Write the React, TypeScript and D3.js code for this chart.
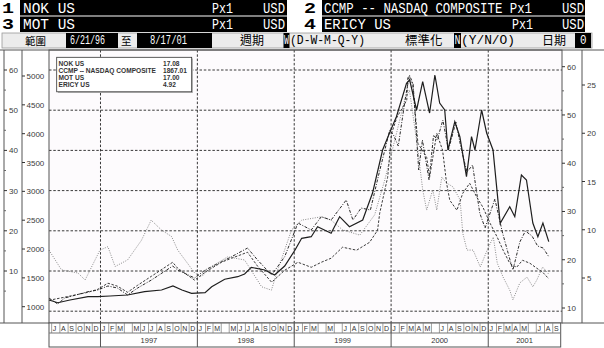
import React from "react";
import * as d3 from "d3";

// ---------- data ----------
const securities = ["NOK US", "CCMP -- NASDAQ COMPOSITE", "MOT US", "ERICY US"];
const lastValues = ["17.08", "1867.01", "17.00", "4.92"];
const axisATicks = [0, 10, 20, 30, 40, 50, 60]; // NOK (left outer)
const axisBTicks = [1000, 1500, 2000, 2500, 3000, 3500, 4000, 4500, 5000]; // CCMP
const axisCTicks = [10, 20, 30, 40, 50, 60]; // MOT (right inner)
const axisDTicks = [5, 10, 15, 20, 25]; // ERICY (right outer)
const monthLetters = ["J", "F", "M", "A", "M", "J", "J", "A", "S", "O", "N", "D"];
const hiddenMonths = ["1997-3", "1998-3", "1999-3", "1999-5", "2000-5", "2001-5"];
const years = [1997, 1998, 1999, 2000, 2001];

// NOK US (solid)
const nokSeries: [string, number][] = [
  ["1996-06-21", 2.79], ["1996-07-24", 2.11], ["1996-09-08", 2.79], ["1996-11-15", 3.61],
  ["1996-12-22", 3.61], ["1997-02-06", 3.78], ["1997-04-13", 4.03], ["1997-06-16", 4.85],
  ["1997-08-19", 5.27], ["1997-10-01", 6.27], ["1997-11-04", 5.27], ["1997-12-10", 4.45],
  ["1998-01-30", 4.6], ["1998-02-24", 6.09], ["1998-04-14", 7.94], ["1998-06-02", 8.58],
  ["1998-06-28", 9.25], ["1998-07-23", 10.92], ["1998-09-12", 10.25], ["1998-10-19", 9.0],
  ["1998-11-26", 11.24], ["1999-01-04", 15.22], ["1999-01-29", 18.13], ["1999-03-06", 18.53],
  ["1999-03-30", 21.02], ["1999-05-20", 19.38], ["1999-06-21", 23.51], ["1999-07-28", 21.02],
  ["1999-09-16", 22.69], ["1999-10-23", 29.4], ["1999-11-30", 40.1], ["1999-12-26", 44.33],
  ["2000-01-21", 48.38], ["2000-02-28", 56.69], ["2000-03-11", 57.51], ["2000-04-06", 50.05],
  ["2000-04-29", 57.09], ["2000-05-25", 49.3], ["2000-06-14", 58.76], ["2000-07-02", 51.79],
  ["2000-07-21", 50.05], ["2000-08-02", 40.1], ["2000-08-28", 47.14], ["2000-09-16", 43.41],
  ["2000-10-11", 33.46], ["2000-10-30", 43.41], ["2000-11-12", 40.1], ["2000-12-07", 50.05],
  ["2000-12-26", 44.33], ["2001-01-19", 40.1], ["2001-02-15", 21.87], ["2001-03-23", 26.0],
  ["2001-04-11", 23.51], ["2001-05-06", 33.88], ["2001-05-25", 32.64], ["2001-06-18", 21.94],
  ["2001-07-07", 18.53], ["2001-07-26", 21.94], ["2001-08-17", 17.29],
];

// CCMP -- NASDAQ COMPOSITE (dash-dot)
const ccmpSeries: [string, number][] = [
  ["1996-06-21", 1150], ["1996-07-24", 1046], ["1996-08-19", 1150], ["1996-11-15", 1260],
  ["1996-12-22", 1289], ["1997-01-29", 1359], ["1997-03-06", 1324], ["1997-04-13", 1203],
  ["1997-05-21", 1324], ["1997-07-12", 1463], ["1997-09-30", 1705], ["1997-10-19", 1636],
  ["1997-12-22", 1497], ["1998-01-30", 1636], ["1998-04-02", 1780], ["1998-05-10", 1867],
  ["1998-07-09", 2017], ["1998-08-16", 1809], ["1998-10-08", 1549], ["1998-11-26", 1867],
  ["1999-01-15", 2451], ["1999-03-06", 2330], ["1999-04-13", 2560], ["1999-05-20", 2503],
  ["1999-07-16", 2850], ["1999-08-10", 2503], ["1999-09-10", 2711], ["1999-10-15", 2676],
  ["1999-11-15", 3283], ["1999-12-27", 4064], ["2000-01-10", 3977], ["2000-01-28", 3786],
  ["2000-02-25", 4653], ["2000-03-10", 5017], ["2000-03-24", 4861], ["2000-04-14", 3370],
  ["2000-04-28", 3890], ["2000-05-23", 3197], ["2000-06-09", 3977], ["2000-06-23", 3890],
  ["2000-07-14", 4237], ["2000-08-04", 3717], ["2000-09-01", 4202], ["2000-09-22", 3717],
  ["2000-10-13", 3335], ["2000-11-03", 3457], ["2000-11-30", 2624], ["2000-12-20", 2364],
  ["2001-01-26", 2867], ["2001-02-23", 2295], ["2001-03-22", 1844], ["2001-04-04", 1637],
  ["2001-04-30", 2122], ["2001-05-21", 2312], ["2001-06-15", 2226], ["2001-07-06", 2052],
  ["2001-07-27", 2017], ["2001-08-17", 1867],
];

// MOT US (grey dotted)
const motSeries: [string, number][] = [
  ["1996-06-21", 22.0], ["1996-08-07", 17.9], ["1996-10-08", 17.25], ["1996-11-04", 15.8],
  ["1996-12-30", 22.0], ["1997-01-29", 22.7], ["1997-02-25", 18.6], ["1997-04-13", 19.95],
  ["1997-06-04", 24.0], ["1997-07-11", 28.2], ["1997-08-18", 26.2], ["1997-09-26", 24.8],
  ["1997-10-19", 22.0], ["1997-12-22", 17.25], ["1998-01-17", 16.5], ["1998-02-24", 18.6],
  ["1998-04-25", 20.6], ["1998-06-28", 19.95], ["1998-08-31", 14.4], ["1998-10-07", 13.7],
  ["1998-10-31", 17.9], ["1998-12-22", 26.2], ["1999-01-29", 28.2], ["1999-04-13", 28.9],
  ["1999-05-20", 28.2], ["1999-07-02", 26.2], ["1999-09-05", 25.1], ["1999-10-31", 29.3],
  ["1999-12-08", 36.5], ["2000-01-15", 44.8], ["2000-02-21", 53.1], ["2000-03-10", 55.2],
  ["2000-04-11", 42.7], ["2000-04-29", 34.5], ["2000-05-14", 30.3], ["2000-06-06", 34.5],
  ["2000-06-21", 30.3], ["2000-07-10", 37.1], ["2000-07-28", 35.9], ["2000-08-21", 35.1],
  ["2000-09-17", 32.4], ["2000-09-27", 25.5], ["2000-10-13", 22.0], ["2000-11-05", 22.0],
  ["2000-12-02", 18.5], ["2000-12-28", 22.0], ["2001-01-20", 24.7], ["2001-02-04", 19.3],
  ["2001-02-26", 16.4], ["2001-03-23", 13.7], ["2001-04-04", 11.7], ["2001-04-30", 15.2],
  ["2001-05-27", 16.4], ["2001-06-18", 14.4], ["2001-07-03", 15.8], ["2001-07-25", 18.5],
  ["2001-08-17", 17.0],
];

// ERICY US (dark dashed)
const ericySeries: [string, number][] = [
  ["1996-06-21", 2.69], ["1996-08-19", 3.01], ["1996-11-15", 3.52], ["1996-12-22", 3.83],
  ["1997-01-29", 4.46], ["1997-03-06", 4.15], ["1997-04-13", 3.52], ["1997-05-21", 4.25],
  ["1997-07-12", 5.18], ["1997-09-30", 6.63], ["1997-10-19", 6.01], ["1997-12-22", 4.77],
  ["1998-01-30", 5.6], ["1998-04-02", 6.63], ["1998-05-10", 7.05], ["1998-07-09", 7.67],
  ["1998-08-16", 6.22], ["1998-10-08", 4.56], ["1998-11-26", 5.8], ["1999-01-15", 6.63],
  ["1999-03-06", 6.11], ["1999-04-13", 6.63], ["1999-05-20", 7.05], ["1999-07-02", 8.19],
  ["1999-08-24", 7.88], ["1999-10-12", 8.7], ["1999-11-11", 9.95], ["1999-11-19", 11.71],
  ["1999-12-19", 15.44], ["2000-01-03", 20.0], ["2000-01-23", 21.66], ["2000-02-29", 23.42],
  ["2000-03-04", 25.8], ["2000-03-22", 25.18], ["2000-04-11", 18.96], ["2000-05-14", 17.51],
  ["2000-05-25", 15.44], ["2000-06-21", 20.0], ["2000-07-13", 18.24], ["2000-07-28", 14.82],
  ["2000-08-09", 13.06], ["2000-09-05", 12.02], ["2000-09-27", 13.78], ["2000-10-23", 14.82],
  ["2000-11-19", 13.37], ["2000-12-12", 12.33], ["2001-01-08", 10.67], ["2001-02-04", 9.22],
  ["2001-02-26", 7.88], ["2001-03-23", 6.53], ["2001-04-18", 6.11], ["2001-05-10", 6.84],
  ["2001-06-07", 6.53], ["2001-07-03", 6.01], ["2001-07-25", 5.6], ["2001-08-17", 4.92],
];

// ---------- layout ----------
const W = 604;
const H = 348;
const plotL = 49;
const plotR = 562;
const plotT = 50;
const plotB = 323;
const axisEnd = 560.7;
const monthRowB = 333;
const yearRowB = 347;

const parse = d3.timeParse("%Y-%m-%d");
const font = "Liberation Sans, Arial, sans-serif";
const mono = "Liberation Mono, DejaVu Sans Mono, monospace";
const cjk = "Noto Sans CJK TC, Noto Sans CJK SC, sans-serif";

function Cond({
  x,
  y,
  txt,
  w,
  fs = 12.4,
  sy = 1.2,
  fill = "#fff",
  weight = "normal",
}: {
  x: number;
  y: number;
  txt: string;
  w: number;
  fs?: number;
  sy?: number;
  fill?: string;
  weight?: string;
}) {
  return (
    <g transform={`translate(${x},${y}) scale(1,${sy})`}>
      <text
        x={0}
        y={0}
        fontFamily={mono}
        fontSize={fs}
        fontWeight={weight}
        fill={fill}
        textLength={w}
        lengthAdjust="spacingAndGlyphs"
      >
        {txt}
      </text>
    </g>
  );
}

export default function App() {
  const x = d3
    .scaleTime()
    .domain([new Date(1996, 5, 21), new Date(2001, 9, 1)])
    .range([plotL, axisEnd]);
  const yA = d3.scaleLinear().domain([0, 60]).range([311.2, 70]);
  const yB = d3.scaleLinear().domain([1000, 5000]).range([306.7, 76]);
  const yC = d3.scaleLinear().domain([10, 60]).range([308, 66.7]);
  const yD = d3.scaleLinear().domain([5, 25]).range([278, 85]);

  const mk = (s: d3.ScaleLinear<number, number>) =>
    d3
      .line<[string, number]>()
      .x((d) => x(parse(d[0]) as Date))
      .y((d) => s(d[1]));

  const months = d3.timeMonth.range(new Date(1996, 6, 1), new Date(2001, 9, 1));
  const yearStarts = years.map((y) => new Date(y, 0, 1));
  const axisText = { fontFamily: font, fontSize: 8, fill: "#3a3a3a" } as const;
  const minor = (ticks: number[]) => {
    const step = ticks[1] - ticks[0];
    return ticks.slice(0, -1).map((t) => t + step / 2);
  };

  const rowsL = [
    { n: "1", name: "NOK  US" },
    { n: "3", name: "MOT  US" },
  ];
  const rowsR = [
    { n: "2", name: "CCMP -- NASDAQ COMPOSITE Px1" },
    { n: "4", name: "ERICY  US" },
  ];

  return (
    <svg width={W} height={H} style={{ position: "absolute", left: 0, top: 0, background: "#fff" }}>
      {/* header rows */}
      {[0, 1].map((i) => {
        const top = i * 16.5;
        const base = top + 12.6;
        const L = rowsL[i];
        const R = rowsR[i];
        return (
          <g key={"h" + i}>
            <Cond x={2} y={top + 12.8} txt={L.n} w={12} fs={13} sy={1.12} fill="#000" weight="bold" />
            <rect x={20} y={top} width={267} height={15.5} fill="#000" />
            <Cond x={23} y={base} txt={L.name} w={L.name.length * 7.43} />
            <Cond x={212} y={base} txt="Px1" w={21} />
            <Cond x={263} y={base} txt="USD" w={22} />
            <Cond x={304} y={top + 12.8} txt={R.n} w={12} fs={13} sy={1.12} fill="#000" weight="bold" />
            <rect x={322} y={top} width={263} height={15.5} fill="#000" />
            <Cond x={324} y={base} txt={R.name} w={R.name.length * 7.43} />
            {i === 1 && <Cond x={512} y={base} txt="Px1" w={21} />}
            <Cond x={562} y={base} txt="USD" w={22} />
          </g>
        );
      })}
      {/* settings row */}
      <g>
        <rect x={2} y={33} width={590} height={15} fill="#ececec" stroke="#9a9a9a" strokeWidth={0.8} />
        <text x={25} y={44.5} fontFamily={cjk} fontSize={10.5} fill="#000">範圍</text>
        <rect x={66} y={33} width={52} height={15} fill="#000" />
        <Cond x={70} y={44.3} txt="6/21/96" w={35} fs={9} sy={1.45} />
        <text x={121} y={44.5} fontFamily={cjk} fontSize={10.5} fill="#000">至</text>
        <rect x={137} y={33} width={75} height={15} fill="#000" />
        <Cond x={150} y={44.3} txt="8/17/01" w={37} fs={9} sy={1.45} />
        <text x={240} y={44.8} fontFamily={cjk} fontSize={12} fill="#000">週期</text>
        <rect x={283.5} y={33} width={6} height={15} fill="#000" />
        <Cond x={284} y={44.3} txt="W" w={5} fs={8} sy={1.5} />
        <Cond x={290} y={44.3} txt="(D-W-M-Q-Y)" w={75} fs={11} sy={1.2} fill="#000" />
        <text x={405} y={44.8} fontFamily={cjk} fontSize={12.5} fill="#000">標準化</text>
        <rect x={454} y={33} width={7} height={15} fill="#000" />
        <Cond x={454.5} y={44.3} txt="N" w={6} fs={9} sy={1.4} />
        <Cond x={461} y={44.3} txt="(Y/N/O)" w={54} fs={11} sy={1.2} fill="#000" />
        <text x={542} y={44.8} fontFamily={cjk} fontSize={12} fill="#000">日期</text>
        <rect x={575} y={33} width={16} height={15} fill="#000" />
        <Cond x={580} y={44.3} txt="0" w={6.5} fs={10} sy={1.3} />
      </g>

      {/* plot background */}
      <rect x={plotL} y={plotT} width={plotR - plotL} height={plotB - plotT} fill="#fdfbfd" />

      {/* horizontal grid (NOK axis ticks) */}
      {axisATicks.map((t) => (
        <line
          key={"gy" + t}
          x1={plotL}
          x2={plotR}
          y1={yA(t)}
          y2={yA(t)}
          stroke="#222"
          strokeWidth={0.9}
          strokeDasharray="2.5,1.8"
        />
      ))}
      {/* vertical grid at year starts */}
      {yearStarts.map((d, i) => (
        <line
          key={"gx" + i}
          x1={x(d)}
          x2={x(d)}
          y1={plotT}
          y2={plotB}
          stroke="#222"
          strokeWidth={0.9}
          strokeDasharray="2.5,1.8"
        />
      ))}

      {/* series */}
      <path d={mk(yC)(motSeries) || ""} fill="none" stroke="#8a8a8a" strokeWidth={1} strokeDasharray="1,1.4" />
      <path d={mk(yD)(ericySeries) || ""} fill="none" stroke="#3a3a3a" strokeWidth={1} strokeDasharray="2.5,1.6" />
      <path d={mk(yB)(ccmpSeries) || ""} fill="none" stroke="#2a2a2a" strokeWidth={1} strokeDasharray="3,1.5,1,1.5" />
      <path d={mk(yA)(nokSeries) || ""} fill="none" stroke="#1e1e1e" strokeWidth={1.2} />

      {/* legend */}
      <rect x={58} y={58.5} width={135} height={34.5} fill="#bbb" />
      <rect x={56.7} y={57.3} width={135} height={34.5} fill="#fff" stroke="#333" strokeWidth={0.8} />
      {securities.map((s, i) => (
        <g key={"lg" + i}>
          <text x={58.5} y={65.5 + i * 7.2} fontFamily={font} fontSize={6.6} fontWeight="bold" fill="#333">
            {s}
          </text>
          <text x={163} y={65.5 + i * 7.2} fontFamily={font} fontSize={6.6} fontWeight="bold" fill="#333">
            {lastValues[i]}
          </text>
        </g>
      ))}

      {/* frames */}
      <rect x={plotL} y={plotT} width={plotR - plotL} height={plotB - plotT} fill="none" stroke="#555" strokeWidth={1} />
      <line x1={0} x2={W} y1={plotT} y2={plotT} stroke="#555" />
      <line x1={0} x2={plotL} y1={plotB} y2={plotB} stroke="#555" />
      <line x1={plotR} x2={W} y1={plotB} y2={plotB} stroke="#555" />
      <line x1={4} x2={4} y1={plotT} y2={plotB} stroke="#555" />
      <line x1={22} x2={22} y1={plotT} y2={plotB} stroke="#555" />
      <line x1={582} x2={582} y1={plotT} y2={plotB} stroke="#555" />

      {/* axis A (left outer, NOK) */}
      {axisATicks.filter((t) => t > 0).map((t) => (
        <g key={"a" + t}>
          <line x1={4} x2={7} y1={yA(t)} y2={yA(t)} stroke="#333" />
          <text x={9} y={yA(t) + 3} {...axisText}>{t}</text>
        </g>
      ))}
      {minor(axisATicks).map((t) => (
        <line key={"am" + t} x1={4} x2={6} y1={yA(t)} y2={yA(t)} stroke="#666" />
      ))}
      {/* axis B (CCMP) */}
      {axisBTicks.map((t) => (
        <g key={"b" + t}>
          <line x1={22} x2={25} y1={yB(t)} y2={yB(t)} stroke="#333" />
          <text x={26.5} y={yB(t) + 3} {...axisText}>{t}</text>
        </g>
      ))}
      {/* axis C (MOT) */}
      {axisCTicks.map((t) => (
        <g key={"c" + t}>
          <line x1={plotR} x2={plotR + 3} y1={yC(t)} y2={yC(t)} stroke="#333" />
          <text x={plotR + 5} y={yC(t) + 3} {...axisText}>{t}</text>
        </g>
      ))}
      {minor(axisCTicks).map((t) => (
        <line key={"cm" + t} x1={plotR} x2={plotR + 2} y1={yC(t)} y2={yC(t)} stroke="#666" />
      ))}
      {/* axis D (ERICY) */}
      {axisDTicks.map((t) => (
        <g key={"d" + t}>
          <line x1={582} x2={585} y1={yD(t)} y2={yD(t)} stroke="#333" />
          <text x={587} y={yD(t) + 3} {...axisText}>{t}</text>
        </g>
      ))}

      {/* date axis */}
      <rect x={plotL} y={plotB} width={axisEnd - plotL} height={yearRowB - plotB} fill="#fff" stroke="#555" />
      <line x1={plotL} x2={axisEnd} y1={monthRowB} y2={monthRowB} stroke="#777" />
      {months.map((m, i) => {
        const key = `${m.getFullYear()}-${m.getMonth()}`;
        const hide = hiddenMonths.includes(key);
        return (
          <g key={"m" + i}>
            <line x1={x(m)} x2={x(m)} y1={plotB} y2={monthRowB} stroke="#777" strokeWidth={0.7} />
            {!hide && (
              <text x={x(m) + 1.2} y={monthRowB - 2} fontFamily={font} fontSize={7} fill="#333">
                {monthLetters[m.getMonth()]}
              </text>
            )}
          </g>
        );
      })}
      {yearStarts.map((d, i) => {
        const next = i + 1 < yearStarts.length ? x(yearStarts[i + 1]) : axisEnd;
        return (
          <g key={"y" + i}>
            <line x1={x(d)} x2={x(d)} y1={plotB} y2={yearRowB} stroke="#555" />
            <text x={(x(d) + next) / 2} y={343} textAnchor="middle" fontFamily={font} fontSize={7.5} fill="#333">
              {years[i]}
            </text>
          </g>
        );
      })}
    </svg>
  );
}
